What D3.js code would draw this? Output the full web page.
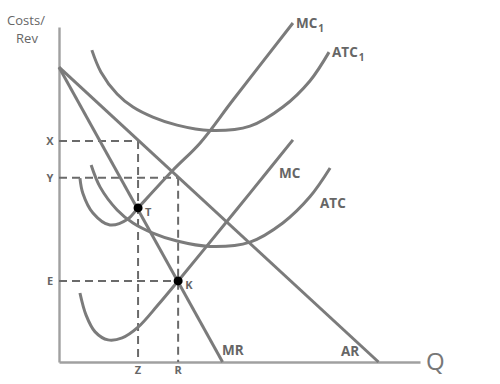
<!DOCTYPE html>
<html>
<head>
<meta charset="utf-8">
<script src="https://cdn.jsdelivr.net/npm/d3@7"></script>
<style>
  body { margin: 0; background: #fff; }
  svg { display: block; }
  text { font-family: "Open Sans", "DejaVu Sans", sans-serif; }
</style>
</head>
<body>
<svg id="chart" width="500" height="384"></svg>
<script>
// ---- Data (Q = quantity, P = costs/revenue, in arbitrary units 0..100) ----
const mcQ   = [5.8, 7.5, 10.0, 13.6, 17.5, 21.9, 27.4, 33.0, 40.7, 52.9, 64.8];
const mcP   = [20.6, 14.0, 9.0, 6.6, 7.2, 10.4, 17.0, 24.2, 34.3, 50.4, 66.3];

const mc1Q  = [5.8, 6.6, 9.4, 14.1, 19.1, 21.9, 31.6, 39.1, 48.2, 64.8];
const mc1P  = [54.9, 50.4, 44.5, 40.9, 42.7, 46.0, 57.3, 65.4, 78.2, 101.2];

const atcQ  = [8.9, 11.4, 16.1, 20.5, 26.0, 32.7, 41.8, 52.9, 62.0, 69.5, 75.1];
const atcP  = [58.8, 52.2, 45.4, 41.5, 38.5, 36.1, 34.5, 35.8, 41.5, 49.3, 57.9];

const atc1Q = [9.1, 11.6, 16.1, 20.5, 26.0, 32.7, 41.8, 52.9, 62.0, 69.5, 74.8];
const atc1P = [93.1, 86.6, 80.0, 76.1, 73.1, 70.7, 69.1, 70.4, 76.1, 83.9, 92.5];

const arQ   = [0, 88.5];
const arP   = [88.0, 0];
const mrQ   = [0, 45.3];
const mrP   = [88.0, 0];

// equilibrium points / tick values
const qTicks = [{label: "Z", q: 21.9, p: 66.0}, {label: "R", q: 33.0, p: 55.0}];
const pTicks = [{label: "X", p: 66.0, q: 21.9}, {label: "Y", p: 55.0, q: 33.0}, {label: "E", p: 24.2, q: 33.0}];
const points = [{label: "T", q: 21.9, p: 46.0}, {label: "K", q: 33.0, p: 24.2}];

// ---- Scales ----
const x = d3.scaleLinear().domain([0, 100]).range([59, 420]);
const y = d3.scaleLinear().domain([0, 100]).range([362, 27]);

const svg = d3.select("#chart");
const curveCol = "#7b7b7b";
const textCol = "#666";

// axes (plain lines, no ticks)
const axisY = d3.axisLeft(y).tickValues([]).tickSize(0);
const axisX = d3.axisBottom(x).tickValues([]).tickSize(0);
svg.append("g").attr("transform", `translate(${x(0)},0)`).call(axisY)
  .call(g => g.select(".domain").attr("stroke", "#a0a0a0").attr("stroke-width", 2.4));
svg.append("g").attr("transform", `translate(0,${y(0)})`).call(axisX)
  .call(g => g.select(".domain").attr("stroke", "#a0a0a0").attr("stroke-width", 2.4));

// dashed guides
const dash = svg.append("g").attr("stroke", "#6a6a6a").attr("stroke-width", 2)
  .attr("stroke-dasharray", "8,5").attr("fill", "none");
pTicks.forEach(t => {
  dash.append("line").attr("x1", x(0)).attr("x2", x(t.q)).attr("y1", y(t.p)).attr("y2", y(t.p));
});
qTicks.forEach(t => {
  dash.append("line").attr("x1", x(t.q)).attr("x2", x(t.q)).attr("y1", y(t.p)).attr("y2", y(0));
});

// curves
const line = d3.line().x(d => x(d[0])).y(d => y(d[1])).curve(d3.curveCatmullRom.alpha(0.5));
const zip = (a, b) => a.map((v, i) => [v, b[i]]);
const series = [zip(mcQ, mcP), zip(mc1Q, mc1P), zip(atcQ, atcP), zip(atc1Q, atc1P), zip(arQ, arP), zip(mrQ, mrP)];
svg.append("g").selectAll("path").data(series).join("path")
  .attr("d", line).attr("fill", "none").attr("stroke", curveCol)
  .attr("stroke-width", 3).attr("stroke-linecap", "butt");

// points
svg.append("g").selectAll("circle").data(points).join("circle")
  .attr("cx", d => x(d.q)).attr("cy", d => y(d.p)).attr("r", 4.5).attr("fill", "#000");
svg.append("g").selectAll("text").data(points).join("text")
  .attr("x", d => x(d.q) + 7).attr("y", d => y(d.p) + 8)
  .attr("font-size", 11).attr("font-weight", "bold").attr("fill", textCol).text(d => d.label);

// tick labels
svg.append("g").selectAll("text").data(pTicks).join("text")
  .attr("x", 50).attr("y", d => y(d.p) + 4).attr("text-anchor", "middle")
  .attr("font-size", 11).attr("font-weight", "bold").attr("fill", textCol).text(d => d.label);
svg.append("g").selectAll("text").data(qTicks).join("text")
  .attr("x", d => x(d.q)).attr("y", 374).attr("text-anchor", "middle")
  .attr("font-size", 11).attr("font-weight", "bold").attr("fill", textCol).text(d => d.label);

// curve labels
function label(txt, sub, px, py) {
  const t = svg.append("text").attr("x", px).attr("y", py)
    .attr("font-size", 13.5).attr("font-weight", "bold").attr("fill", textCol);
  t.append("tspan").text(txt);
  if (sub) t.append("tspan").attr("font-size", 10).attr("dy", 4).attr("dx", 1).text(sub);
}
label("MC", "1", 296, 28);
label("ATC", "1", 332, 57);
label("MC", null, 279, 178);
label("ATC", null, 320, 208);
label("AR", null, 341, 356);
label("MR", null, 222, 355);

// axis titles
svg.append("text").attr("x", 26).attr("y", 25).attr("text-anchor", "middle")
  .attr("font-size", 13).attr("fill", textCol).text("Costs/");
svg.append("text").attr("x", 27).attr("y", 43).attr("text-anchor", "middle")
  .attr("font-size", 13).attr("fill", textCol).text("Rev");
svg.append("text").attr("x", 426).attr("y", 370)
  .attr("font-size", 24).attr("fill", "#777").text("Q");
</script>
</body>
</html>
